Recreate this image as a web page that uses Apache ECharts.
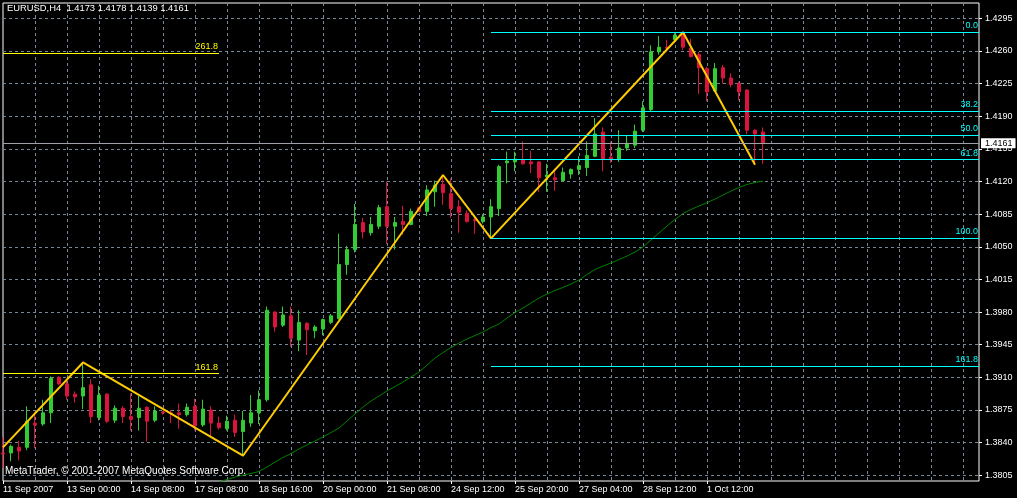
<!DOCTYPE html>
<html><head><meta charset="utf-8">
<script src="https://cdn.jsdelivr.net/npm/echarts@6/dist/echarts.min.js"></script>
<style>html,body{margin:0;padding:0;background:#000;}#c{width:1017px;height:498px;}</style>
</head><body><div id="c"></div>
<script>
const tickLabels = ['11 Sep 2007','13 Sep 00:00','14 Sep 08:00','17 Sep 08:00','18 Sep 16:00','20 Sep 00:00','21 Sep 08:00','24 Sep 12:00','25 Sep 20:00','27 Sep 04:00','28 Sep 12:00','1 Oct 12:00'];
const open = [1.3829,1.3829,1.3835,1.3835,1.3861,1.3860,1.3872,1.3910,1.3903,1.3892,
1.3890,1.3902,1.3867,1.3892,1.3864,1.3877,1.3868,1.3867,1.3878,1.3864,
1.3873,1.3872,1.3872,1.3870,1.3879,1.3859,1.3875,1.3861,1.3855,1.3864,
1.3852,1.3861,1.3872,1.3886,1.3980,1.3966,1.3976,1.3950,1.3968,1.3960,
1.3962,1.3969,1.3973,1.4031,1.4047,1.4076,1.4065,1.4072,1.4093,1.4072,
1.4077,1.4074,1.4092,1.4088,1.4109,1.4117,1.4107,1.4093,1.4086,1.4079,
1.4077,1.4082,1.4091,1.4140,1.4141,1.4143,1.4141,1.4141,1.4125,1.4124,
1.4121,1.4128,1.4133,1.4135,1.4147,1.4173,1.4146,1.4144,1.4156,1.4159,
1.4175,1.4197,1.4259,1.4264,1.4272,1.4279,1.4263,1.4256,1.4241,1.4217,
1.4242,1.4231,1.4225,1.4218,1.4175,1.4173];
const close = [1.3828,1.3836,1.3831,1.3863,1.3859,1.3872,1.3909,1.3903,1.3890,1.3889,
1.3899,1.3868,1.3891,1.3863,1.3877,1.3868,1.3865,1.3877,1.3863,1.3874,
1.3872,1.3871,1.3870,1.3878,1.3858,1.3876,1.3861,1.3856,1.3863,1.3851,
1.3864,1.3872,1.3886,1.3982,1.3964,1.3977,1.3952,1.3969,1.3961,1.3964,
1.3972,1.3976,1.4031,1.4047,1.4074,1.4066,1.4074,1.4092,1.4072,1.4076,
1.4074,1.4088,1.4088,1.4111,1.4116,1.4108,1.4091,1.4087,1.4077,1.4078,
1.4082,1.4093,1.4136,1.4142,1.4144,1.4139,1.4139,1.4124,1.4127,1.4122,
1.4130,1.4133,1.4137,1.4148,1.4171,1.4144,1.4144,1.4156,1.4161,1.4174,
1.4199,1.4259,1.4264,1.4263,1.4277,1.4264,1.4254,1.4242,1.4216,1.4241,
1.4231,1.4224,1.4216,1.4175,1.4171,1.4161];
const low = [1.3813,1.3820,1.3821,1.3832,1.3834,1.3858,1.3861,1.3902,1.3886,1.3883,
1.3876,1.3861,1.3864,1.3861,1.3861,1.3861,1.3853,1.3853,1.3841,1.3862,
1.3870,1.3861,1.3855,1.3868,1.3853,1.3857,1.3846,1.3854,1.3853,1.3846,
1.3826,1.3857,1.3860,1.3884,1.3959,1.3964,1.3943,1.3938,1.3934,1.3952,
1.3955,1.3967,1.3972,1.4020,1.4044,1.4059,1.4062,1.4069,1.4053,1.4047,
1.4063,1.4073,1.4087,1.4083,1.4093,1.4095,1.4081,1.4065,1.4076,1.4064,
1.4075,1.4059,1.4083,1.4118,1.4131,1.4138,1.4129,1.4109,1.4109,1.4110,
1.4120,1.4123,1.4127,1.4126,1.4146,1.4131,1.4140,1.4141,1.4153,1.4156,
1.4173,1.4195,1.4256,1.4259,1.4270,1.4261,1.4253,1.4214,1.4206,1.4216,
1.4225,1.4221,1.4207,1.4171,1.4138,1.4139];
const high = [1.3846,1.3838,1.3842,1.3879,1.3873,1.3886,1.3911,1.3911,1.3907,1.3895,
1.3926,1.3908,1.3901,1.3893,1.3880,1.3879,1.3893,1.3890,1.3879,1.3879,
1.3874,1.3875,1.3882,1.3882,1.3887,1.3886,1.3879,1.3868,1.3869,1.3870,
1.3874,1.3891,1.3896,1.3986,1.3981,1.3986,1.3986,1.3982,1.3969,1.3966,
1.3973,1.3978,1.4064,1.4051,1.4096,1.4081,1.4082,1.4095,1.4120,1.4082,
1.4094,1.4091,1.4093,1.4116,1.4121,1.4127,1.4123,1.4100,1.4089,1.4084,
1.4085,1.4101,1.4138,1.4152,1.4152,1.4163,1.4153,1.4142,1.4139,1.4131,
1.4135,1.4134,1.4147,1.4163,1.4188,1.4178,1.4163,1.4175,1.4169,1.4181,
1.4206,1.4266,1.4276,1.4272,1.4279,1.4280,1.4273,1.4259,1.4243,1.4247,
1.4245,1.4236,1.4227,1.4219,1.4176,1.4178];
const ma = [null,null,null,null,null,null,null,null,null,null,
null,null,null,null,null,null,null,null,null,null,
null,null,null,null,null,null,1.37957,1.37978,1.38005,1.38032,
1.38053,1.38069,1.38091,1.38139,1.38192,1.38241,1.38284,1.38332,1.38375,1.38418,
1.38461,1.38509,1.38557,1.38632,1.38707,1.38782,1.38847,1.38900,1.38954,1.39002,
1.39050,1.39104,1.39157,1.39232,1.39307,1.39366,1.39420,1.39468,1.39511,1.39549,
1.39586,1.39634,1.39672,1.39736,1.39795,1.39844,1.39897,1.39951,1.39994,1.40032,
1.40064,1.40101,1.40144,1.40203,1.40257,1.40294,1.40326,1.40364,1.40401,1.40444,
1.40498,1.40573,1.40648,1.40723,1.40793,1.40857,1.40900,1.40937,1.40974,1.41012,
1.41055,1.41098,1.41136,1.41168,1.41189,1.41205];
const zigzagBars = [0,10,30,55,61,85,94];
const zigzagValues = [1.3835,1.3926,1.3826,1.4127,1.4059,1.4280,1.4138];
const fibRightLevels = [0,38.2,50,61.8,100,161.8];
const fibRightHigh = 1.4280, fibRightLow = 1.4059, fibRightStart = 61;
const fibLeftLevels = ['161.8','261.8'];
const fibLeftValues = [1.3914, 1.4258];
const fibLeftEnd = 27;
const bidPrice = 1.4161;
const yTickMin = 1.3805, yTickMax = 1.4295, yTickStep = 0.0035;

const N = 123;
const cats = Array.from({length: N}, (_, i) => 'b' + i);
const candles = open.map((o, i) => [o, close[i], low[i], high[i]]);
const zz = new Array(open.length).fill(null);
zigzagBars.forEach((b, k) => { zz[b] = zigzagValues[k]; });
const FONT = 'Liberation Sans';
const lbl = (i) => i % 8 === 0 && i / 8 < tickLabels.length;

const fibLines = [];
fibRightLevels.forEach(l => {
  const v = fibRightHigh - (fibRightHigh - fibRightLow) * l / 100;
  fibLines.push([{coord: [fibRightStart, v], lineStyle: {color: '#00FFFF'}, label: {formatter: l.toFixed(1), color: '#00FFFF'}}, {coord: [N - 1, v]}]);
});
fibLeftValues.forEach((v, k) => {
  fibLines.push([{coord: [0, v], lineStyle: {color: '#FFFF00'}, label: {formatter: fibLeftLevels[k], color: '#FFFF00'}}, {coord: [fibLeftEnd, v]}]);
});

const chart = echarts.init(document.getElementById('c'), null, {renderer: 'canvas'});
chart.setOption({
  animation: false,
  backgroundColor: '#000',
  textStyle: {fontFamily: FONT},
  title: [
    {text: 'EURUSD,H4  ' + [open[95], high[95], low[95], close[95]].map(v => v.toFixed(4)).join(' '), left: 7, top: 4, padding: 0,
     textStyle: {color: '#fff', fontSize: 9.4, fontWeight: 'normal', fontFamily: FONT}},
    {text: 'MetaTrader, © 2001-2007 MetaQuotes Software Corp.', left: 5, top: 466, padding: 0,
     textStyle: {color: '#fff', fontSize: 10, fontWeight: 'normal', fontFamily: FONT}}
  ],
  grid: [
    {left: 3, right: 38, top: 3, bottom: 17, show: true, borderColor: '#fff', borderWidth: 1, backgroundColor: '#000'},
    {left: 3, right: 38, top: 18.28, bottom: 22.72, show: false}
  ],
  xAxis: [
    {type: 'category', gridIndex: 0, data: cats, boundaryGap: false,
     axisLine: {show: false},
     axisTick: {show: true, interval: lbl, length: 3, lineStyle: {color: '#fff'}},
     axisLabel: {show: true, interval: lbl, formatter: (v, i) => tickLabels[i / 8], align: 'left', color: '#fff', fontSize: 9, margin: 4, fontFamily: FONT},
     splitLine: {show: true, interval: (i) => i % 4 === 0 && i > 0, lineStyle: {color: '#778899', type: [3, 3], width: 1}}},
    {type: 'category', gridIndex: 1, data: cats, boundaryGap: false, show: false}
  ],
  yAxis: [
    {type: 'value', gridIndex: 0, min: 1.37989, max: 1.43114, show: false, splitLine: {show: false}},
    {type: 'value', gridIndex: 1, position: 'right', min: yTickMin, max: yTickMax, interval: yTickStep,
     axisLine: {show: false},
     axisTick: {show: true, length: 3, lineStyle: {color: '#fff'}},
     axisLabel: {color: '#fff', fontSize: 9, margin: 6, formatter: v => v.toFixed(4), fontFamily: FONT},
     splitLine: {show: true, lineStyle: {color: '#778899', type: [3, 3], width: 1}}}
  ],
  series: [
    {type: 'line', xAxisIndex: 0, yAxisIndex: 0, data: ma, symbol: 'none', connectNulls: false,
     lineStyle: {color: '#008000', width: 1}, z: 1, silent: true},
    {type: 'candlestick', xAxisIndex: 0, yAxisIndex: 0, data: candles, barWidth: 4,
     itemStyle: {color: '#32CD32', color0: '#DC143C', borderColor: '#32CD32', borderColor0: '#DC143C', borderWidth: 1},
     z: 2, silent: true},
    {type: 'line', xAxisIndex: 0, yAxisIndex: 0, data: zz, symbol: 'none', connectNulls: true,
     lineStyle: {color: '#FFCC00', width: 2}, z: 3, silent: true,
     markLine: {silent: true, symbol: ['none', 'none'], animation: false, precision: 4,
       lineStyle: {type: 'solid', width: 1},
       label: {show: true, position: 'insideEndTop', fontSize: 9, distance: [1, 2], fontFamily: FONT},
       data: fibLines.concat([
         {yAxis: bidPrice, lineStyle: {color: '#A0A0A8', type: 'solid', width: 1},
          label: {position: 'end', formatter: bidPrice.toFixed(4), color: '#000', backgroundColor: '#fff', padding: [1, 3, 0, 4], distance: 2, fontSize: 9}}
       ])}}
  ]
});
</script></body></html>
